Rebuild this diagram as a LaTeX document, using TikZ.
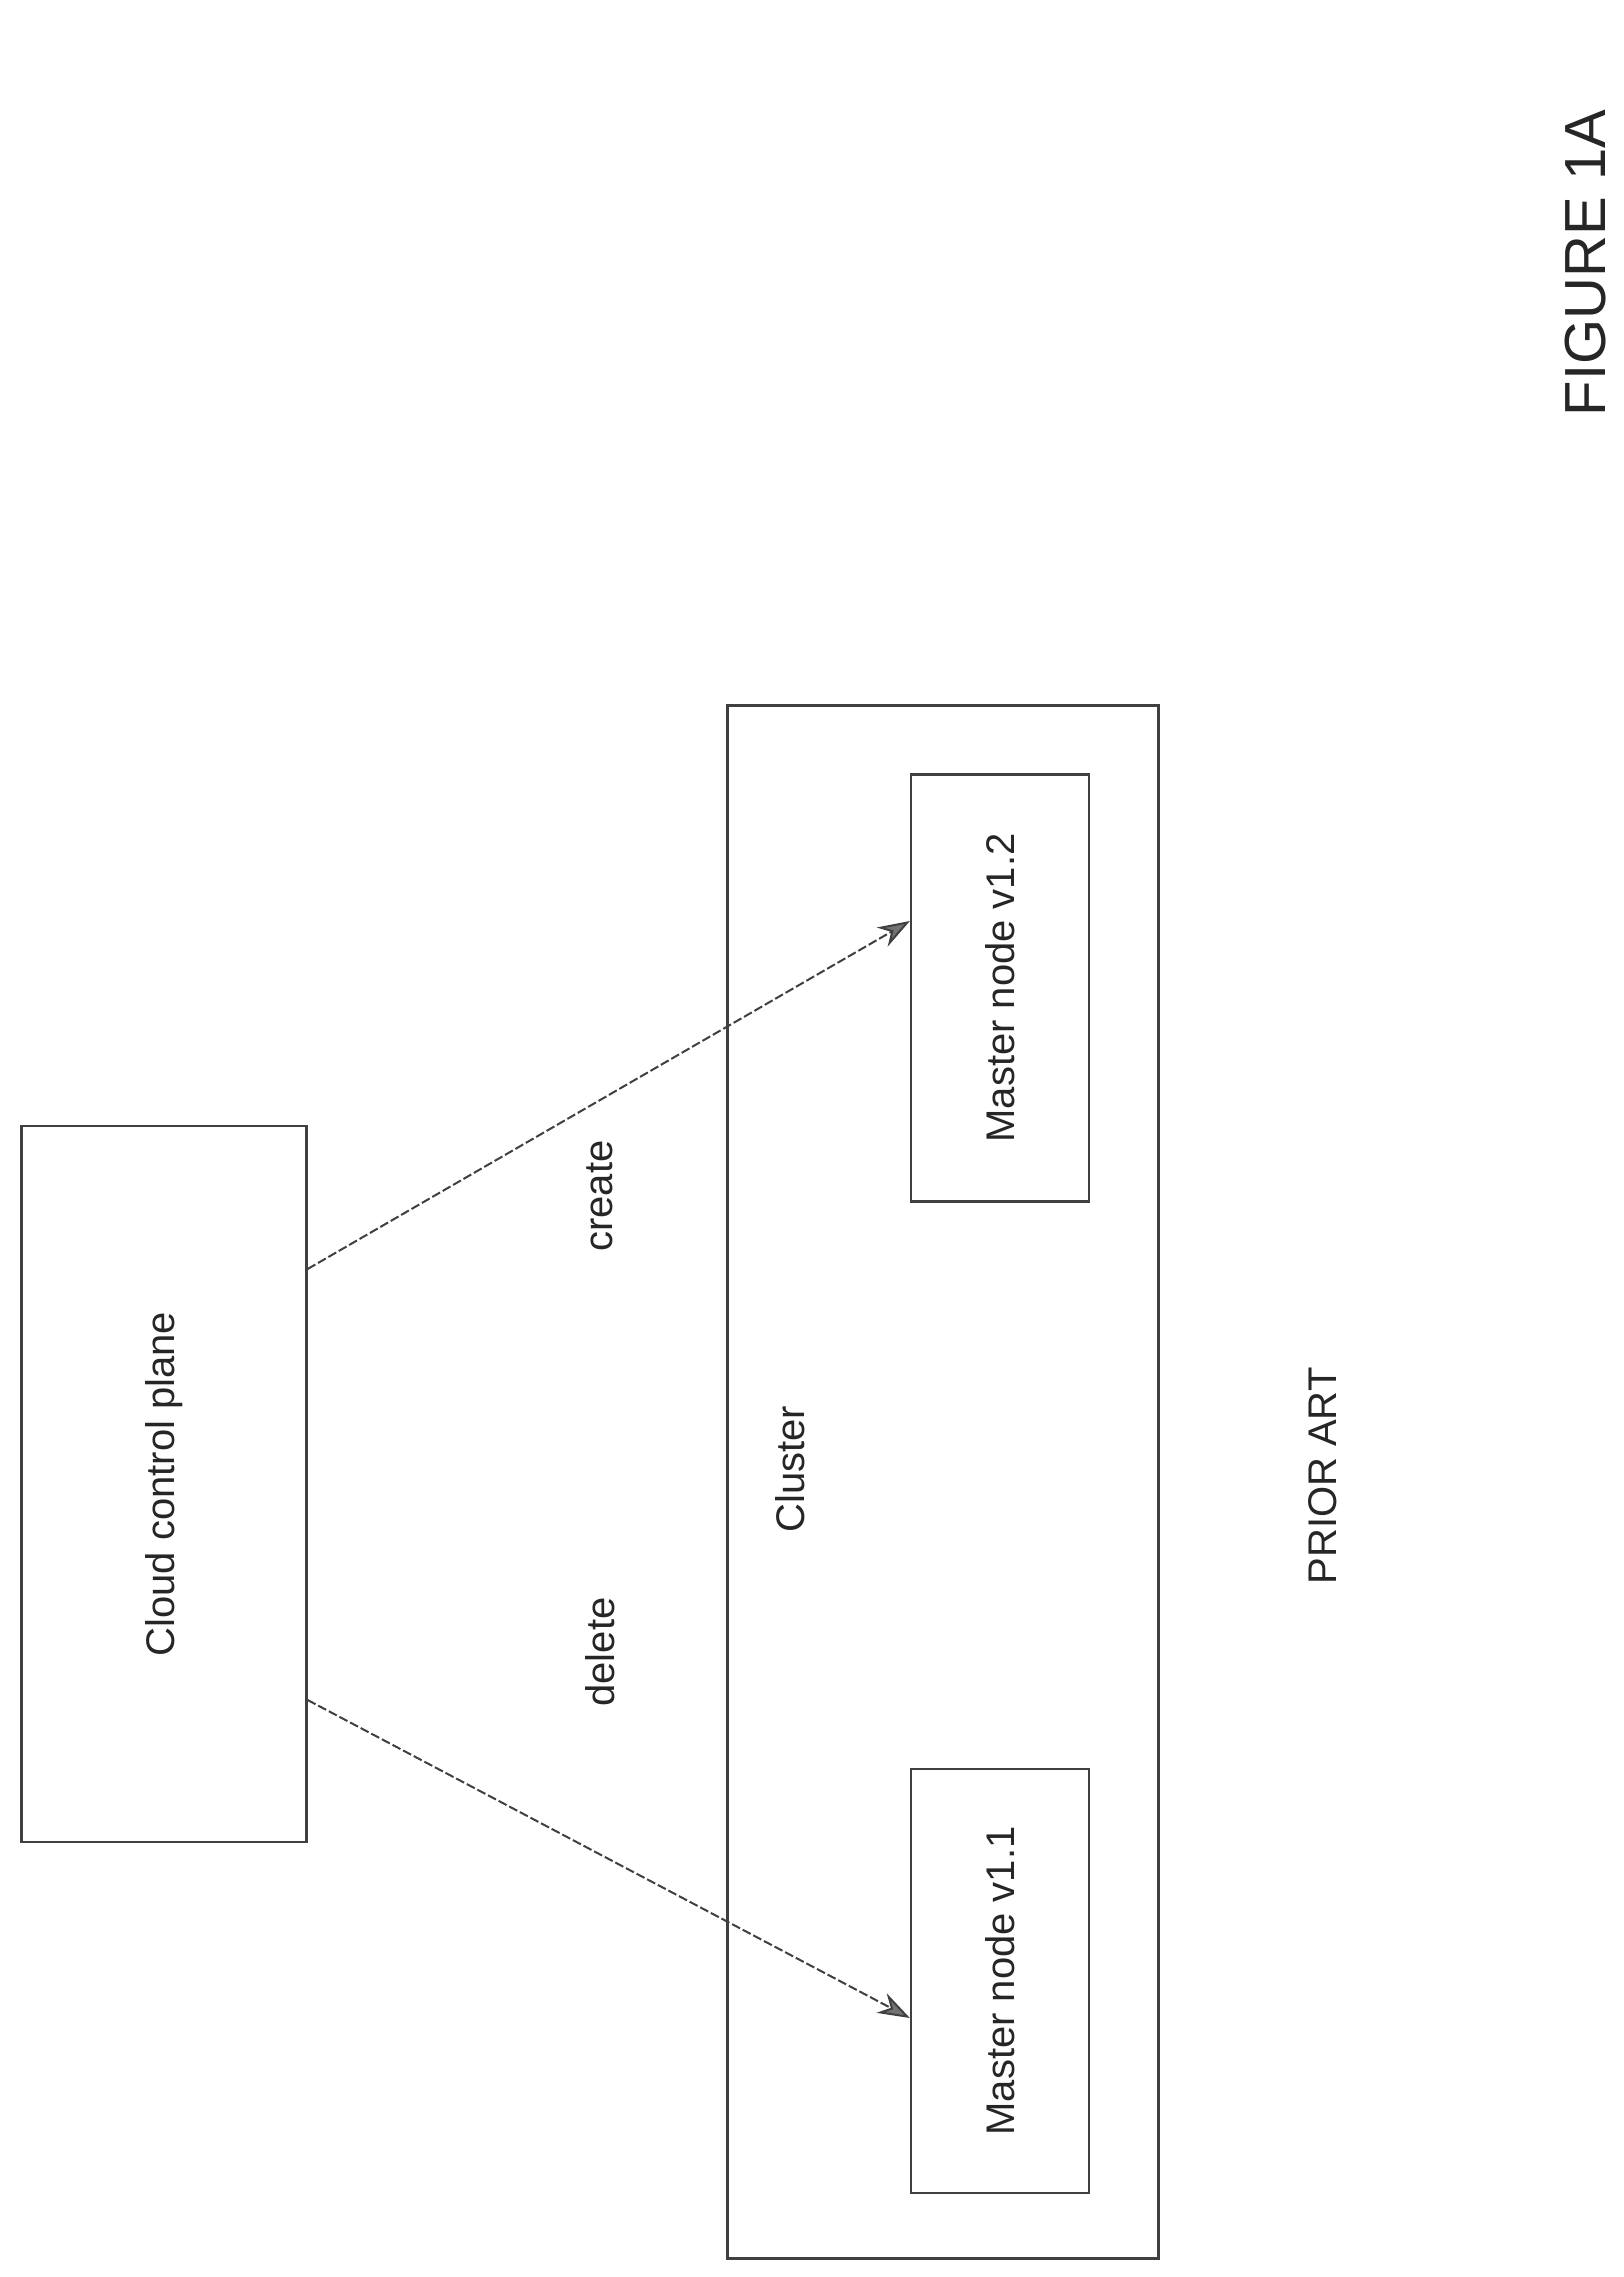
\documentclass[tikz,border=0pt]{standalone}
\usepackage{fontspec}
\setmainfont{Liberation Sans}
\usetikzlibrary{arrows.meta}
\begin{document}
\begin{tikzpicture}[x=1pt,y=-1pt,
  box/.style={draw=black!75,line width=2.2pt,inner sep=0pt},
  lbl/.style={rotate=90,font=\fontsize{40}{48}\selectfont,text=black!85},
  arr/.style={draw=black!75,line width=2pt,dash pattern=on 9pt off 3pt,-{Stealth[length=32pt,width=22pt,fill=black!55]}}]
\useasboundingbox (0,0) rectangle (1623,2277);
\node[box,minimum width=285pt,minimum height=716pt] (ccp) at (164,1484) {};
\node[box,minimum width=431pt,minimum height=1553pt] (cl) at (943,1482) {};
\node[box,minimum width=178pt,minimum height=427pt] (m12) at (1000,988) {};
\node[box,minimum width=178pt,minimum height=424pt] (m11) at (1000,1981) {};
\node[lbl] (t1) at (ccp.center) {Cloud control plane};
\node[lbl] (t2) at (m12.center) {Master node v1.2};
\node[lbl] (t3) at (m11.center) {Master node v1.1};
\node[lbl] (t4) at (790,1469) {Cluster};
\node[lbl] (t5) at (600,1196) {create};
\node[lbl] (t6) at (600,1652) {delete};
\node[lbl] (t7) at (1323,1476) {PRIOR ART};
\node[rotate=90,font=\fontsize{58}{68}\selectfont,text=black!85] (t8) at (1586,263) {FIGURE 1A};
\draw[arr] ([yshift=215pt]ccp.east) -- ([yshift=67pt]m12.west);
\draw[arr] ([yshift=-216pt]ccp.east) -- ([yshift=-37pt]m11.west);
\end{tikzpicture}
\end{document}
